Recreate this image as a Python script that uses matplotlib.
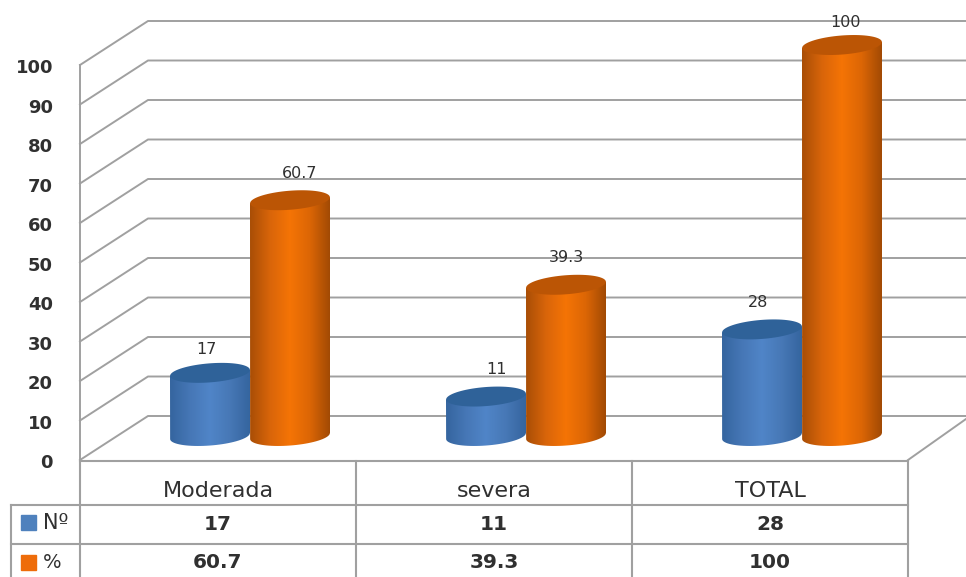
import numpy as np
import matplotlib
matplotlib.use('Agg')
import matplotlib.pyplot as plt
from matplotlib.colors import LinearSegmentedColormap
from matplotlib.path import Path
from matplotlib.patches import PathPatch, Rectangle

categories = ['Moderada', 'severa', 'TOTAL']
series_names = ['Nº', '%']
valores_n = [17, 11, 28]
valores_pct = [60.7, 39.3, 100]
etiquetas_n = ['17', '11', '28']
etiquetas_pct = ['60.7', '39.3', '100']
yticks = [0, 10, 20, 30, 40, 50, 60, 70, 80, 90, 100]

W, H = 966, 577
PX = 3.95        # pixeles por unidad
Y0 = 460         # pixel del valor 0 en el plano frontal
DX, DY = 68, 44  # profundidad 3D
GRID = '#a0a0a0'
TXT = '#303030'

fig = plt.figure(figsize=(W / 100, H / 100), dpi=100)
ax = fig.add_axes([0, 0, 1, 1])
ax.axis('off')
ylim = ((Y0 - H) / PX, Y0 / PX)


def yv(py):
    # pixel vertical a valor
    return (Y0 - py) / PX


# paredes y rejilla
for t in yticks:
    ax.plot([80, 80 + DX, W], [t, t + DY / PX, t + DY / PX], color=GRID, lw=1.4, zorder=1)
    ax.text(53, t - 0.8, str(t), ha='right', va='center', fontsize=13, fontweight='bold', color=TXT)
ax.plot([80, 80], [0, 100], color=GRID, lw=1.4, zorder=1)
ax.plot([908, W], [0, 41 / PX], color=GRID, lw=1.4, zorder=1)

# tabla de datos
col_x = [80 + 276 * i for i in range(len(categories) + 1)]
fila_y = [461, 505, 544, H + 2]
for py in fila_y[:3]:
    ax.plot([80 if py == 461 else 11, 908], [yv(py), yv(py)], color=GRID, lw=1.5, zorder=2)
for x in col_x:
    ax.plot([x, x], [yv(461), yv(H)], color=GRID, lw=1.5, zorder=2)
ax.plot([11, 11], [yv(505), yv(H)], color=GRID, lw=1.5, zorder=2)

for i, cat in enumerate(categories):
    xc = (col_x[i] + col_x[i + 1]) / 2
    ax.text(xc, yv(491), cat, ha='center', va='center', fontsize=16, color=TXT)
    ax.text(xc, yv(525), etiquetas_n[i], ha='center', va='center', fontsize=14.5, fontweight='bold', color=TXT)
    ax.text(xc, yv(563), etiquetas_pct[i], ha='center', va='center', fontsize=14.5, fontweight='bold', color=TXT)

ax.add_patch(Rectangle((21, yv(530)), 15, 15 / PX, color='#4f81bd', zorder=3))
ax.add_patch(Rectangle((21, yv(570)), 15, 15 / PX, color='#ee6c0a', zorder=3))
ax.text(43, yv(523), series_names[0], ha='left', va='center', fontsize=15, color=TXT)
ax.text(43, yv(562), series_names[1], ha='left', va='center', fontsize=14, color=TXT)

# cilindros
cm_azul = LinearSegmentedColormap.from_list('a', ['#35659f', '#4677b6', '#5085c8', '#4778b6', '#35659f'])
cm_nar = LinearSegmentedColormap.from_list('n', ['#a94e06', '#d9650a', '#f57405', '#dc6606', '#a24a04'])
grad = np.linspace(0, 1, 128).reshape(1, -1)
ANCHO = 80
TILT = np.deg2rad(-4.5)


def elipse(cx, cy):
    # puntos de la elipse inclinada, en pixeles
    t = np.linspace(0, 2 * np.pi, 80)
    ex, ey = ANCHO / 2 * np.cos(t), 9.5 * np.sin(t)
    return cx + ex * np.cos(TILT) - ey * np.sin(TILT), cy + ex * np.sin(TILT) + ey * np.cos(TILT)


def cilindro(cx, valor, cmap, color_tapa, zorder):
    top = Y0 - 20 - valor * PX
    base = Y0 - 24
    tx, ty = elipse(cx, top)
    bx, by = elipse(cx, base)
    # cuerpo: rectangulo mas media elipse de abajo
    sx = np.concatenate([[cx - ANCHO / 2, cx + ANCHO / 2], [cx + ANCHO / 2], bx[:41], [cx - ANCHO / 2]])
    sy = np.concatenate([[top + 3, top - 3], [base - 3], by[:41], [top + 3]])
    path = Path(np.column_stack([sx, yv(sy)]))
    clip = PathPatch(path, transform=ax.transData, fc='none', ec='none')
    ax.add_patch(clip)
    im = ax.imshow(grad, cmap=cmap, aspect='auto', zorder=zorder,
                   extent=[cx - ANCHO / 2, cx + ANCHO / 2, yv(base + 12), yv(top - 8)])
    im.set_clip_path(clip)
    ax.fill(tx, yv(ty), color=color_tapa, lw=0, zorder=zorder + 0.1)


centros = [250 + 276 * i for i in range(len(categories))]
# ajuste fino de las etiquetas, en pixeles
dx_n = [-4, 10, -4]
dy_n = [0, 4, 4]
dx_p = [10, 0, 4]
dy_p = [4, 4, 0]
for i in range(len(categories)):
    xa = centros[i] - 40
    xb = centros[i] + 40
    cilindro(xa, valores_n[i], cm_azul, '#2f6299', 5)
    cilindro(xb, valores_pct[i], cm_nar, '#bb5505', 6)
    ax.text(xa + dx_n[i], valores_n[i] + (43 + dy_n[i]) / PX, etiquetas_n[i], ha='center', va='center',
            fontsize=11.5, color=TXT, zorder=8)
    ax.text(xb + dx_p[i], valores_pct[i] + (43 + dy_p[i]) / PX, etiquetas_pct[i], ha='center', va='center',
            fontsize=11.5, color=TXT, zorder=8)

ax.set_xlim(0, W)
ax.set_ylim(*ylim)
fig.savefig('out.png', dpi=100)
